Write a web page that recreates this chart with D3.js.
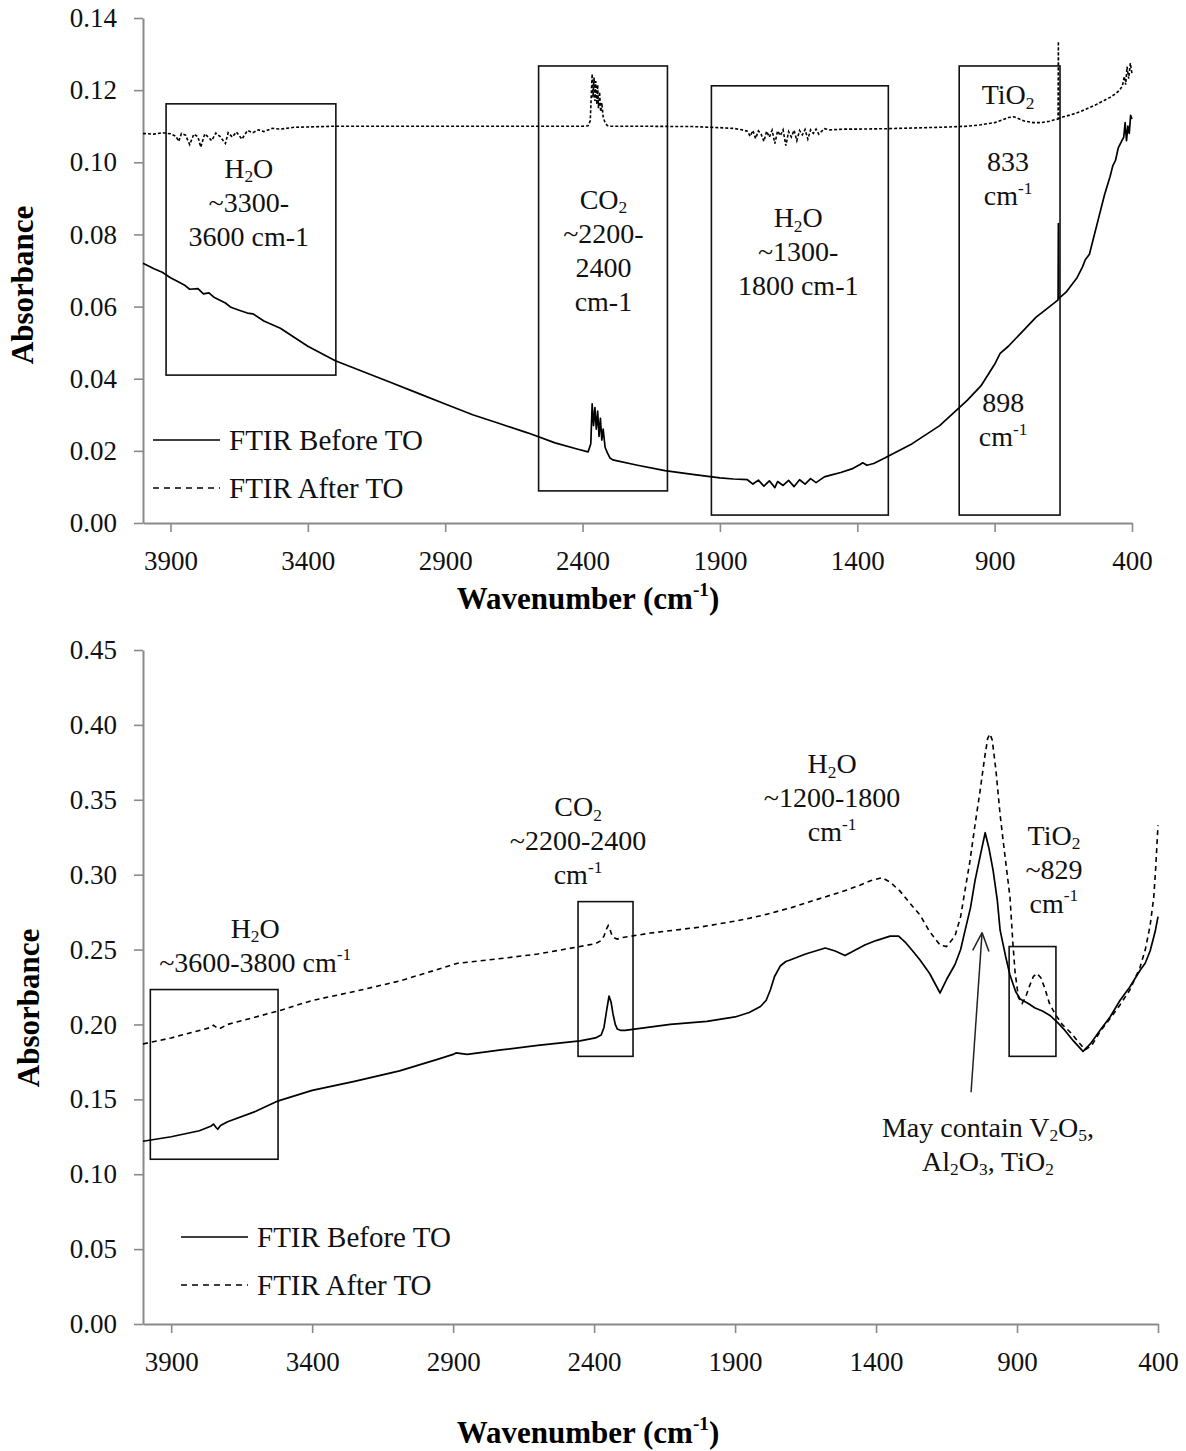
<!DOCTYPE html>
<html>
<head>
<meta charset="utf-8">
<script src="https://cdn.jsdelivr.net/npm/d3@7"></script>
<style>
  body { margin: 0; background: #fff; }
  svg text { font-family: "Liberation Serif", "Times New Roman", serif; }
</style>
</head>
<body>
<svg id="chart" width="1186" height="1451"></svg>
<script>
// ---------------- DATA ----------------
const X_TICKS = [3900, 3400, 2900, 2400, 1900, 1400, 900, 400];
const TOP_Y_TICKS = [0, 0.02, 0.04, 0.06, 0.08, 0.10, 0.12, 0.14];
const BOTTOM_Y_TICKS = [0, 0.05, 0.10, 0.15, 0.20, 0.25, 0.30, 0.35, 0.40, 0.45];
const SERIES_NAMES = ["FTIR Before TO", "FTIR After TO"];

// Top panel — FTIR Before TO
const topBeforeWn = [4000,3960,3930,3900,3870,3850,3830,3800,3780,3760,3740,3700,3680,3650,3620,3600,3560,3500,3450,3400,3300,3200,3100,3000,2900,2800,2700,2600,2500,2420,2380,2370,2365,2360,2355,2350,2345,2340,2335,2330,2325,2318,2310,2300,2290,2200,2100,2000,1900,1850,1800,1780,1760,1740,1720,1700,1690,1670,1650,1630,1610,1590,1570,1550,1520,1500,1460,1420,1390,1380,1365,1340,1300,1200,1100,1000,950,900,880,850,800,750,700,670,669,668,667,640,620,600,580,570,555,540,520,500,480,470,460,450,440,430,425,420,415,410,405,400];
const topBeforeAbs = [0.072,0.0705,0.0695,0.068,0.0668,0.066,0.0648,0.065,0.0635,0.0638,0.0625,0.061,0.0598,0.059,0.0582,0.058,0.056,0.054,0.0515,0.049,0.045,0.042,0.039,0.036,0.033,0.030,0.0275,0.025,0.0222,0.0205,0.0197,0.022,0.033,0.027,0.032,0.026,0.031,0.024,0.029,0.023,0.026,0.021,0.0195,0.018,0.0175,0.016,0.0145,0.0135,0.0125,0.0122,0.012,0.0108,0.0119,0.0102,0.0117,0.0098,0.0115,0.0104,0.0118,0.0101,0.012,0.0108,0.0123,0.0112,0.0128,0.0132,0.014,0.015,0.0162,0.0167,0.016,0.0165,0.018,0.022,0.027,0.034,0.038,0.044,0.047,0.049,0.053,0.057,0.060,0.0618,0.062,0.083,0.0622,0.064,0.066,0.068,0.071,0.073,0.0745,0.079,0.085,0.091,0.096,0.099,0.1005,0.104,0.1055,0.107,0.111,0.106,0.110,0.108,0.113,0.112];

// Top panel — FTIR After TO
const topAfterWn = [4000,3960,3930,3900,3880,3870,3860,3845,3830,3815,3800,3790,3775,3760,3750,3735,3720,3700,3690,3675,3660,3640,3620,3600,3580,3560,3530,3500,3450,3400,3300,3200,3000,2800,2600,2400,2380,2372,2368,2365,2362,2358,2355,2352,2348,2345,2342,2338,2334,2330,2325,2318,2310,2300,2200,2000,1900,1850,1820,1800,1790,1780,1770,1760,1750,1740,1730,1720,1710,1700,1690,1680,1670,1660,1650,1640,1630,1620,1610,1600,1590,1580,1570,1560,1550,1540,1520,1500,1450,1400,1300,1200,1100,1000,950,900,870,850,830,810,790,760,730,700,680,669,668,667,650,620,590,560,530,500,480,460,445,435,428,423,418,412,406,400];
const topAfterAbs = [0.108,0.1078,0.1082,0.1079,0.1072,0.1058,0.108,0.1075,0.1049,0.1078,0.1071,0.1042,0.1079,0.1068,0.1060,0.1081,0.1072,0.1052,0.1082,0.1070,0.1084,0.1064,0.1088,0.1082,0.1090,0.1085,0.1094,0.1092,0.1097,0.1098,0.1100,0.1100,0.1100,0.1100,0.1100,0.1100,0.1101,0.1115,0.1190,0.1245,0.1180,0.1235,0.1170,0.1225,0.1160,0.1215,0.1150,0.1195,0.1140,0.1165,0.1125,0.1110,0.1102,0.1100,0.1100,0.1099,0.1096,0.1094,0.1090,0.1086,0.1072,0.1088,0.1066,0.1087,0.1078,0.1058,0.1086,0.1070,0.1089,0.1052,0.1087,0.1074,0.1090,0.1046,0.1085,0.1070,0.1089,0.1060,0.1088,0.1076,0.1091,0.1064,0.1090,0.1080,0.1092,0.1078,0.1093,0.1090,0.1092,0.1092,0.1093,0.1095,0.1097,0.1100,0.1104,0.1110,0.1118,0.1124,0.1126,0.1120,0.1114,0.1110,0.1110,0.1114,0.1118,0.1120,0.1335,0.1121,0.1126,0.1132,0.1140,0.1150,0.1160,0.1172,0.1180,0.1190,0.1200,0.1212,0.1238,0.1215,0.1265,0.1232,0.1275,0.1245];

// Bottom panel — FTIR Before TO
const bottomBeforeWn = [4000,3900,3800,3760,3750,3740,3735,3725,3700,3600,3520,3400,3250,3090,2950,2900,2890,2850,2730,2600,2450,2395,2375,2365,2355,2347,2340,2333,2325,2318,2305,2290,2250,2130,2000,1900,1850,1810,1790,1775,1760,1740,1720,1705,1650,1580,1545,1510,1480,1440,1400,1350,1320,1297,1270,1244,1210,1173,1150,1120,1100,1084,1065,1049,1030,1013,1000,985,970,960,940,925,905,889,860,836,810,783,755,730,700,666,640,606,570,535,500,464,445,428,410,400];
const bottomBeforeAbs = [0.122,0.125,0.129,0.132,0.1335,0.131,0.130,0.1325,0.135,0.142,0.149,0.156,0.162,0.169,0.177,0.180,0.181,0.180,0.183,0.186,0.189,0.191,0.193,0.198,0.210,0.219,0.215,0.207,0.200,0.197,0.196,0.196,0.197,0.200,0.202,0.205,0.208,0.212,0.216,0.223,0.232,0.239,0.242,0.243,0.247,0.251,0.249,0.246,0.249,0.253,0.256,0.259,0.259,0.255,0.249,0.243,0.234,0.221,0.230,0.240,0.250,0.263,0.278,0.296,0.313,0.328,0.318,0.303,0.283,0.263,0.245,0.233,0.222,0.217,0.214,0.211,0.209,0.206,0.201,0.196,0.189,0.182,0.187,0.196,0.205,0.216,0.225,0.236,0.241,0.249,0.262,0.272];

// Bottom panel — FTIR After TO
const bottomAfterWn = [4000,3900,3800,3760,3750,3740,3730,3700,3600,3520,3400,3250,3090,2950,2900,2880,2850,2730,2600,2450,2395,2375,2365,2358,2350,2343,2336,2325,2318,2300,2200,2024,1900,1847,1800,1740,1700,1650,1600,1550,1500,1457,1420,1400,1379,1350,1315,1280,1244,1210,1173,1150,1120,1100,1085,1067,1050,1031,1015,1004,996,988,975,960,945,925,915,907,895,882,870,855,842,829,815,801,785,765,740,712,685,659,635,606,570,535,500,464,445,428,415,408,400];
const bottomAfterAbs = [0.187,0.191,0.196,0.198,0.1995,0.198,0.197,0.200,0.205,0.209,0.216,0.222,0.229,0.237,0.240,0.241,0.2415,0.244,0.247,0.252,0.254,0.256,0.259,0.263,0.266,0.263,0.259,0.2575,0.257,0.258,0.261,0.265,0.269,0.271,0.273,0.276,0.278,0.281,0.284,0.287,0.290,0.293,0.296,0.297,0.298,0.295,0.289,0.281,0.273,0.262,0.253,0.252,0.259,0.272,0.289,0.309,0.332,0.356,0.378,0.391,0.394,0.390,0.370,0.340,0.316,0.285,0.255,0.235,0.218,0.214,0.218,0.226,0.232,0.234,0.231,0.224,0.214,0.207,0.200,0.195,0.189,0.183,0.186,0.195,0.204,0.213,0.223,0.238,0.250,0.266,0.285,0.305,0.333];

// Annotation boxes (wavenumber range, absorbance range)
const topBoxes = [
  {wnFrom: 3916, wnTo: 3298, absLow: 0.041, absHigh: 0.1162},
  {wnFrom: 2560, wnTo: 2091, absLow: 0.0089, absHigh: 0.1267},
  {wnFrom: 1931, wnTo: 1287, absLow: 0.0022, absHigh: 0.1212},
  {wnFrom: 1029, wnTo: 662, absLow: 0.0022, absHigh: 0.1267}
];
const bottomBoxes = [
  {wnFrom: 3974, wnTo: 3521, absLow: 0.110, absHigh: 0.2233},
  {wnFrom: 2457, wnTo: 2262, absLow: 0.1787, absHigh: 0.282},
  {wnFrom: 928, wnTo: 762, absLow: 0.1787, absHigh: 0.252}
];

// Annotation texts (anchor = centre of first line, in data units)
const topNotes = [
  {lines: ["H_{2}O", "~3300-", "3600 cm-1"], wn: 3615, abs: 0.0984},
  {lines: ["CO_{2}", "~2200-", "2400", "cm-1"], wn: 2324, abs: 0.0898},
  {lines: ["H_{2}O", "~1300-", "1800 cm-1"], wn: 1615, abs: 0.0846},
  {lines: ["TiO_{2}"], wn: 851, abs: 0.1187},
  {lines: ["833", "cm^{-1}"], wn: 851, abs: 0.1001},
  {lines: ["898", "cm^{-1}"], wn: 869, abs: 0.0333}
];
const bottomNotes = [
  {lines: ["H_{2}O", "~3600-3800 cm^{-1}"], wn: 3602, abs: 0.264},
  {lines: ["CO_{2}", "~2200-2400", "cm^{-1}"], wn: 2457, abs: 0.3453},
  {lines: ["H_{2}O", "~1200-1800", "cm^{-1}"], wn: 1556, abs: 0.374},
  {lines: ["TiO_{2}", "~829", "cm^{-1}"], wn: 769, abs: 0.326},
  {lines: ["May contain V_{2}O_{5},", "Al_{2}O_{3}, TiO_{2}"], wn: 1003, abs: 0.1313}
];
const bottomArrow = {fromWn: 1063, fromAbs: 0.1547, toWn: 1024, toAbs: 0.2613};

// ---------------- DRAWING ----------------
const svg = d3.select("#chart");
const AXIS_COLOR = "#8a8a8a";

function richText(sel, str, fs) {
  const re = /([_^])\{([^}]*)\}/g;
  let last = 0, cur = 0, m;
  const plain = (t) => { if (!t) return; sel.append("tspan").attr("dy", -cur).attr("font-size", fs).text(t); cur = 0; };
  while ((m = re.exec(str)) !== null) {
    plain(str.slice(last, m.index));
    const target = m[1] === "_" ? 0.15 * fs : -0.42 * fs;
    sel.append("tspan").attr("dy", target - cur).attr("font-size", fs * 0.62).text(m[2]);
    cur = target;
    last = re.lastIndex;
  }
  plain(str.slice(last));
}

function drawPanel(cfg) {
  const x = d3.scaleLinear().domain([4000, 400]).range([143, cfg.right]);
  const y = d3.scaleLinear().domain([0, cfg.ymax]).range([cfg.bottom, cfg.top]);
  const g = svg.append("g");

  const xAxis = g.append("g").attr("transform", `translate(0,${cfg.bottom})`)
    .call(d3.axisBottom(x).tickValues(X_TICKS).tickSize(9).tickSizeOuter(0).tickPadding(19).tickFormat(d3.format("d")));
  const yAxis = g.append("g").attr("transform", "translate(143,0)")
    .call(d3.axisLeft(y).tickValues(cfg.yTicks).tickSize(9).tickSizeOuter(0).tickPadding(17).tickFormat(d3.format(".2f")));
  [xAxis, yAxis].forEach(a => {
    a.select(".domain").attr("stroke", AXIS_COLOR).attr("stroke-width", 2);
    a.selectAll(".tick line").attr("stroke", AXIS_COLOR).attr("stroke-width", 1.6);
    a.selectAll(".tick text").attr("font-size", 27).attr("fill", "#111")
      .style("font-family", '"Liberation Serif", serif');
  });

  // boxes
  g.selectAll("rect.box").data(cfg.boxes).join("rect").attr("class", "box")
    .attr("x", d => x(d.wnFrom)).attr("y", d => y(d.absHigh))
    .attr("width", d => x(d.wnTo) - x(d.wnFrom)).attr("height", d => y(d.absLow) - y(d.absHigh))
    .attr("fill", "none").attr("stroke", "#111").attr("stroke-width", 1.6);

  const line = d3.line().x(d => x(d[0])).y(d => y(d[1]));
  g.append("path").datum(d3.zip(cfg.beforeWn, cfg.beforeAbs)).attr("d", line)
    .attr("fill", "none").attr("stroke", "#000").attr("stroke-width", 1.7).attr("stroke-linejoin", "round");
  g.append("path").datum(d3.zip(cfg.afterWn, cfg.afterAbs)).attr("d", line)
    .attr("fill", "none").attr("stroke", "#000").attr("stroke-width", 1.6).attr("stroke-dasharray", cfg.dash);

  // notes
  cfg.notes.forEach(n => {
    n.lines.forEach((ln, i) => {
      const t = g.append("text").attr("x", x(n.wn)).attr("y", y(n.abs) + i * cfg.lineGap + 0.34 * 28)
        .attr("text-anchor", "middle").attr("font-size", 28).attr("fill", "#111");
      richText(t, ln, 28);
    });
  });

  if (cfg.arrow) {
    const a = cfg.arrow;
    const x1 = x(a.fromWn), y1 = y(a.fromAbs), x2 = x(a.toWn), y2 = y(a.toAbs);
    g.append("line").attr("x1", x1).attr("y1", y1).attr("x2", x2).attr("y2", y2)
      .attr("stroke", "#222").attr("stroke-width", 1.5);
    const ang = Math.atan2(y1 - y2, x1 - x2), L = 20, s = 0.42;
    [ang - s, ang + s].forEach(b => {
      g.append("line").attr("x1", x2).attr("y1", y2)
        .attr("x2", x2 + L * Math.cos(b)).attr("y2", y2 + L * Math.sin(b))
        .attr("stroke", "#222").attr("stroke-width", 1.5);
    });
  }

  // legend
  cfg.legend.forEach((lg, i) => {
    const ly = cfg.legendY + i * 48;
    g.append("line").attr("x1", cfg.legendX).attr("x2", cfg.legendX + 67).attr("y1", ly).attr("y2", ly)
      .attr("stroke", "#000").attr("stroke-width", 1.6).attr("stroke-dasharray", i === 1 ? "6,5" : null);
    g.append("text").attr("x", cfg.legendX + 76).attr("y", ly + 10).attr("font-size", 29).attr("fill", "#111").text(lg);
  });

  // axis titles
  const xt = g.append("text").attr("x", 588).attr("y", cfg.xTitleY).attr("text-anchor", "middle")
    .attr("font-size", 31).attr("font-weight", "bold").attr("fill", "#000");
  richText(xt, "Wavenumber (cm^{-1})", 31);
  g.append("text").attr("transform", `translate(${cfg.yTitleX},${cfg.yTitleY}) rotate(-90)`)
    .attr("text-anchor", "middle").attr("dominant-baseline", "central")
    .attr("font-size", 31).attr("font-weight", "bold").attr("fill", "#000").text("Absorbance");
}

drawPanel({
  top: 18, bottom: 523, right: 1132, ymax: 0.14, yTicks: TOP_Y_TICKS,
  beforeWn: topBeforeWn, beforeAbs: topBeforeAbs, afterWn: topAfterWn, afterAbs: topAfterAbs,
  boxes: topBoxes, notes: topNotes, lineGap: 34, dash: "3,2",
  legend: SERIES_NAMES, legendX: 153, legendY: 440,
  xTitleY: 609, yTitleX: 22, yTitleY: 285
});
drawPanel({
  top: 650, bottom: 1324, right: 1158, ymax: 0.45, yTicks: BOTTOM_Y_TICKS,
  beforeWn: bottomBeforeWn, beforeAbs: bottomBeforeAbs, afterWn: bottomAfterWn, afterAbs: bottomAfterAbs,
  boxes: bottomBoxes, notes: bottomNotes, lineGap: 34, dash: "5,4", arrow: bottomArrow,
  legend: SERIES_NAMES, legendX: 181, legendY: 1237,
  xTitleY: 1443, yTitleX: 28, yTitleY: 1008
});
</script>
</body>
</html>
